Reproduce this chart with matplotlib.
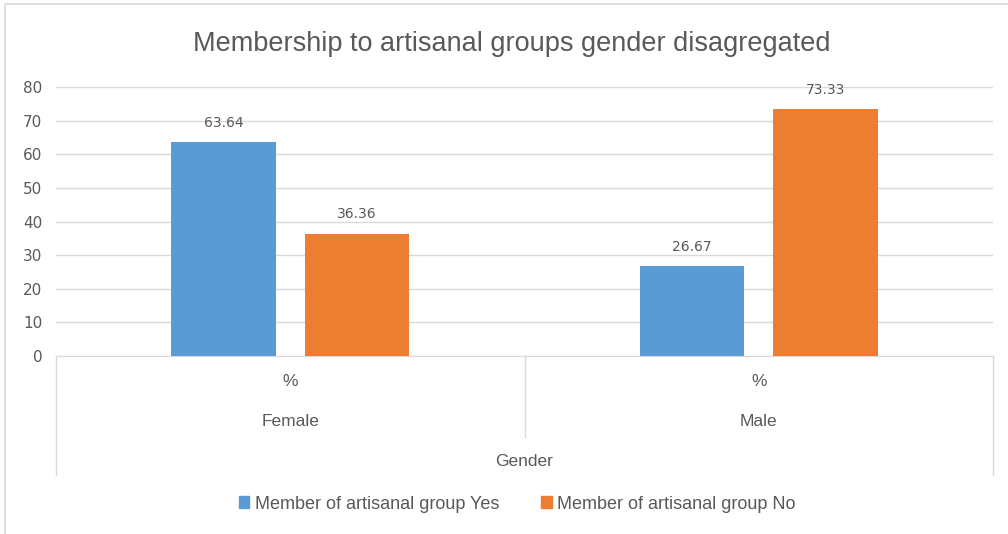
import numpy as np
import matplotlib.pyplot as plt
from matplotlib.patches import Patch, Rectangle

plt.rcParams['font.family'] = ['Liberation Sans Narrow', 'Liberation Sans', 'DejaVu Sans']

genders = ['Female', 'Male']
sub_labels = ['%', '%']
series_names = ['Member of artisanal group Yes', 'Member of artisanal group No']
yes_vals = [63.64, 26.67]
no_vals = [36.36, 73.33]

blue = '#5B9BD5'
orange = '#ED7D31'
grid_c = '#D9D9D9'
text_c = '#595959'
num_font = ['DejaVu Sans']

fig = plt.figure(figsize=(10.08, 5.34), dpi=100)
fig.patch.set_facecolor('white')
# chart area outline (only the top and left edges fall inside the image)
fig.add_artist(Rectangle((5 / 1008, -0.1), 1.2, 530 / 534 + 0.1,
                         transform=fig.transFigure, fill=False,
                         edgecolor=grid_c, lw=1.2))

ax = fig.add_axes([0.0556, 0.3333, 0.9295, 0.5037])
x = np.arange(len(genders))
w = 0.223
off = 0.1426
b1 = ax.bar(x - off, yes_vals, w, color=blue, zorder=3)
b2 = ax.bar(x + off, no_vals, w, color=orange, zorder=3)

for bars, vals in ((b1, yes_vals), (b2, no_vals)):
    for r, v in zip(bars, vals):
        ax.annotate(f'{v:.2f}', (r.get_x() + r.get_width() / 2, v),
                    xytext=(0, 9), textcoords='offset points',
                    ha='center', va='bottom', fontsize=10, color=text_c,
                    family=num_font)

ax.set_xlim(-0.5, 1.5)
ax.set_ylim(0, 80)
ax.set_yticks(range(0, 81, 10))
ax.tick_params(axis='y', length=0, labelsize=11, labelcolor=text_c, pad=10)
for lab in ax.get_yticklabels():
    lab.set_family(num_font)
ax.set_xticks([])
ax.grid(axis='y', color=grid_c, linewidth=1, zorder=0)
for s in ['top', 'right', 'left']:
    ax.spines[s].set_visible(False)
ax.spines['bottom'].set_color(grid_c)

# two-level category axis below the bars
tr = ax.get_xaxis_transform()
ax.plot([-0.5, -0.5], [0, -0.442], color=grid_c, lw=1, transform=tr, clip_on=False)
ax.plot([0.5, 0.5], [0, -0.301], color=grid_c, lw=1, transform=tr, clip_on=False)
ax.plot([1.5, 1.5], [0, -0.442], color=grid_c, lw=1, transform=tr, clip_on=False)
for xi, g, s in zip(x, genders, sub_labels):
    ax.text(xi, -0.093, s, transform=tr, ha='center', va='center', fontsize=12.5, color=text_c)
    ax.text(xi, -0.245, g, transform=tr, ha='center', va='center', fontsize=12.5, color=text_c)
ax.text(0.5, -0.394, 'Gender', transform=tr, ha='center', va='center', fontsize=12.5, color=text_c)

fig.text(0.508, 0.918, 'Membership to artisanal groups gender disagregated',
         ha='center', va='center', fontsize=19.5, color=text_c)

handles = [Patch(color=blue), Patch(color=orange)]
fig.legend(handles, series_names, loc='center', bbox_to_anchor=(0.513, 0.056),
           ncol=2, frameon=False, fontsize=13, labelcolor=text_c,
           handlelength=0.6, handleheight=0.6, handletextpad=0.3, columnspacing=2.3)

fig.savefig('out.png', dpi=100)
